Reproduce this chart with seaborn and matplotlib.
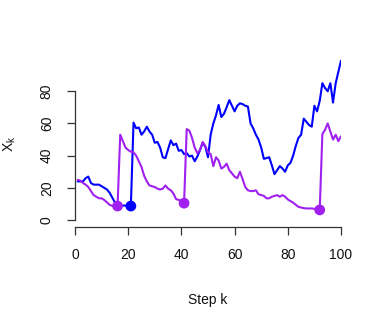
import numpy as np
import pandas as pd
import matplotlib
matplotlib.use("Agg")
import matplotlib.pyplot as plt
import seaborn as sns

# ---- data ----
steps = list(range(1, 101))

blue_values = [24, 24, 24, 26, 27, 23, 22, 22, 22, 21,
               20, 19, 17, 14, 11, 9.5, 9, 9, 9, 9,
               8.7, 60.5, 57, 57.5, 53, 55, 58, 55, 53, 48,
               48.5, 45, 39, 38.5, 44, 49.5, 46.5, 47.5, 43, 43.5,
               41, 41.5, 39.5, 40, 36.5, 39.5, 43.5, 48, 45.5, 39,
               53, 60, 65, 71.5, 64, 66, 70, 74.5, 71, 67.5,
               71, 72.5, 72, 71, 70.5, 60, 57, 53, 50, 45,
               38, 38.5, 39, 34, 28.5, 31, 33.5, 32, 30, 34,
               35.5, 40, 46, 51, 53, 63, 61, 59, 58, 71,
               67.5, 74, 85, 82, 80, 85, 73, 85, 92, 99]

purple_values = [25, 24.5, 23, 22, 20.5, 18, 15.5, 14.5, 13.5, 13.5,
                 12.5, 11, 9.5, 8.8, 8.8, 8.7, 53, 49, 45, 43.5,
                 42.5, 42, 40, 36.5, 33, 27.5, 24, 21.5, 21, 20.5,
                 19.5, 19, 19.5, 21.5, 19.5, 18.5, 16.5, 13, 12.5, 12,
                 10.5, 56.5, 55.5, 51, 45, 41.5, 43.5, 48.5, 46, 42,
                 41, 33.5, 39, 37, 32, 33, 35, 31, 29, 27,
                 26, 30, 25.5, 20.5, 18.5, 18, 18, 18.5, 16, 15.5,
                 15, 13.5, 13.5, 14.5, 15, 15.5, 14.5, 15.5, 14.5, 12.8,
                 11.8, 10.8, 9.5, 8.2, 7.8, 7.4, 7.2, 7.2, 7.2, 7,
                 6.8, 6.3, 53.5, 56, 60, 55, 50, 53, 49, 52]

# steps where a reset happens (marked with a dot)
blue_reset_steps = [21]
purple_reset_steps = [16, 41, 92]

x_ticks = [0, 20, 40, 60, 80, 100]
y_ticks = [0, 20, 40, 60, 80]
x_label = "Step k"
y_label = r"$\mathregular{X_k}$"

# ---- build tables ----
df = pd.DataFrame({
    "k": steps * 2,
    "X": blue_values + purple_values,
    "series": ["blue"] * len(steps) + ["purple"] * len(steps),
})
dots = pd.DataFrame({
    "k": blue_reset_steps + purple_reset_steps,
    "X": [blue_values[s - 1] for s in blue_reset_steps]
         + [purple_values[s - 1] for s in purple_reset_steps],
    "series": ["blue"] * len(blue_reset_steps) + ["purple"] * len(purple_reset_steps),
})
palette = {"blue": "#0000FF", "purple": "#A020F0"}

# ---- draw ----
sns.set_theme(style="white")
plt.rcParams["font.family"] = ["Liberation Sans", "DejaVu Sans"]
plt.rcParams["mathtext.fontset"] = "custom"
plt.rcParams["mathtext.rm"] = "Liberation Sans"

W, H = 383, 314
fig = plt.figure(figsize=(W / 100, H / 100), dpi=100)
left, right, top, bottom = 75, 341, 52.6, 226.5
ax = fig.add_axes([left / W, 1 - bottom / H, (right - left) / W, (bottom - top) / H])

sns.lineplot(data=df, x="k", y="X", hue="series", palette=palette,
             estimator=None, sort=False, linewidth=1.5, legend=False, ax=ax)
sns.scatterplot(data=dots, x="k", y="X", hue="series", palette=palette,
                s=60, edgecolor="none", legend=False, ax=ax, zorder=5)

ax.set_xlim(0, 100)
ax.set_ylim(-4, 104)
ax.set_xticks(x_ticks)
ax.set_yticks(y_ticks)
ax.set_xticklabels([str(v) for v in x_ticks])
ax.set_yticklabels([str(v) for v in y_ticks], rotation=90, va="center")

for side in ["top", "right"]:
    ax.spines[side].set_visible(False)
ax.spines["left"].set_bounds(0, 80)
ax.spines["bottom"].set_bounds(0, 100)
for side in ["left", "bottom"]:
    ax.spines[side].set_color("#333333")
    ax.spines[side].set_linewidth(0.9)

ax.tick_params(axis="both", direction="out", length=5.8, width=0.9,
               color="#333333", labelsize=10, labelcolor="#111111", pad=9.5,
               left=True, bottom=True)

ax.set_xlabel(x_label, fontsize=10, color="#111111")
ax.set_ylabel(y_label, fontsize=10, color="#111111", rotation=90)
ax.xaxis.set_label_coords(0.5, -(293 - bottom) / (bottom - top))
ax.yaxis.label.set_va("center")
ax.yaxis.set_label_coords((10 - left) / (right - left), (bottom - 144) / (bottom - top))

ax.grid(False)
ax.set_facecolor("white")
fig.patch.set_facecolor("white")
fig.savefig("out.png", dpi=100, facecolor="white")
